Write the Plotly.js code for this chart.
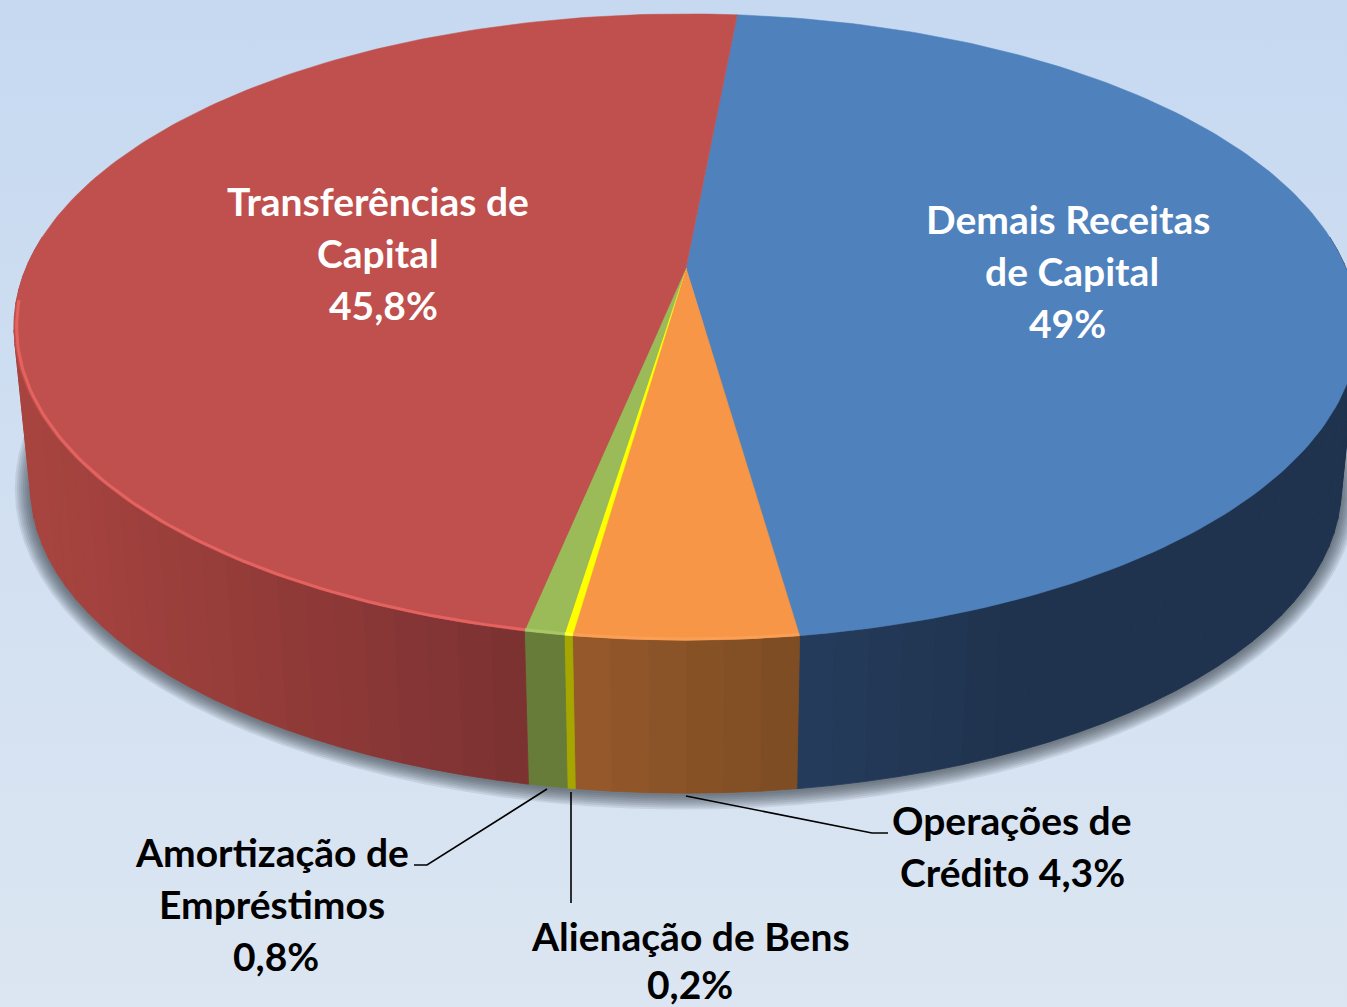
<!DOCTYPE html>
<html>
<head>
<meta charset="utf-8">
<script src="https://cdn.plot.ly/plotly-3.0.1.min.js"></script>
<style>
html,body{margin:0;padding:0;width:1347px;height:1007px;overflow:hidden;background:linear-gradient(180deg,#c6d9f1 0%,#dce6f2 100%);}
#chart{width:1347px;height:1007px;}
</style>
</head>
<body>
<div id="chart"></div>
<script>
// Slices, clockwise from the red/blue boundary; shares are the drawn wedge sizes (%).
const categories = ["Demais Receitas de Capital","Operações de Crédito","Alienação de Bens","Amortização de Empréstimos","Transferências de Capital"];
const drawnShares = [46.3,4.47,0.165,0.8,48.27];
const startAngle = 5.27;
const topColors = ["#4f81bd","#f79646","#ffff00","#9bbb59","#c0504d"];
const wallNear = ["#253c5c","#7c4c23","#a6a600","#687c3a","#7b3132"];
const wallFar = ["#1f334e","#96592b","#a6a600","#687c3a","#a8443f"];
const wallSpan = [220,226,8,40,500];
const rimColors = [null,"#fa9f55","#ffff40","#a8c766","#e4625f"];
const labelLines = [
  ["Transferências de",378,201,"#ffffff"],["Capital",378,253,"#ffffff"],["45,8%",383,305,"#ffffff"],
  ["Demais Receitas",1068,219,"#ffffff"],["de Capital",1072,271,"#ffffff"],["49%",1067,323,"#ffffff"],
  ["Operações de",1012,820,"#000000"],["Crédito 4,3%",1012,872,"#000000"],
  ["Alienação de Bens",690,936,"#000000"],["0,2%",690,984,"#000000"],
  ["Amortização de",272,852,"#000000"],["Empréstimos",272,904,"#000000"],["0,8%",276,956,"#000000"]
];
const leaderX = [[414,427,547],[571,571],[686,872,888]];
const leaderY = [[865,865,789],[792,903],[796,833,833]];

// Perspective view of the disc
const CX=686, CY=268, A=660, B=302, K=0.1885, DROP=162.3, SHRINK=0.975;
function rimTop(t){const r=t*Math.PI/180,X=Math.sin(r),Y=Math.cos(r),w=1+K*Y;return [CX+A*X/w,CY-B*Y/w];}
function rimLow(t,grow=0){const p=rimTop(t);const s=SHRINK;const x=CX+s*(p[0]-CX),y=CY+DROP+s*(p[1]-CY);
  const cy=CY+DROP+s*59;return [CX+(x-CX)*(1+grow/654),cy+(y-cy)*(1+grow/315)];}
function hex(c){return [1,3,5].map(i=>parseInt(c.substr(i,2),16));}
function mix(a,b,f){const p=hex(a),q=hex(b);return "rgb("+p.map((v,i)=>Math.round(v+(q[i]-v)*f)).join(",")+")";}

const traces=[];
function poly(pts,color,lw){traces.push({type:"scatter",mode:"lines",x:pts.map(p=>p[0]),y:pts.map(p=>p[1]),fill:"toself",fillcolor:color,
  line:{color:lw?color:"rgba(0,0,0,0)",width:lw||0},hoverinfo:"skip",showlegend:false});}

// shadow under the disc
for(let g=16;g>=2;g-=2){const pts=[];for(let t=70;t<=292;t+=3){const p=rimLow(t,g);pts.push([p[0],p[1]+1]);}
  pts.push(pts[0]);poly(pts,"rgba(50,58,70,0.105)");}

// slice boundaries
const edges=[startAngle];drawnShares.forEach(s=>edges.push(edges[edges.length-1]+s*3.6));

// side wall
const WALL_MIN=84, WALL_MAX=276;
drawnShares.forEach((s,i)=>{
  const a=Math.max(edges[i],WALL_MIN), b=Math.min(edges[i+1],WALL_MAX);
  if(b<=a)return;
  const n=Math.max(1,Math.round((b-a)/2.5));
  const anchor=i<=1?rimTop(edges[1])[0]:rimTop(a)[0];
  for(let j=0;j<n;j++){
    const t1=a+(b-a)*j/n,t2=a+(b-a)*(j+1)/n;
    const xm=rimTop((t1+t2)/2)[0];
    const f=Math.min(1,Math.abs(anchor-xm)/wallSpan[i]);
    poly([rimTop(t1),rimTop(t2),rimLow(t2),rimLow(t1),rimTop(t1)],mix(wallNear[i],wallFar[i],f),0.8);
  }
});

// top face
drawnShares.forEach((s,i)=>{
  const pts=[[CX,CY]];const a=edges[i],b=edges[i+1];const n=Math.max(1,Math.round(b-a));
  for(let j=0;j<=n;j++)pts.push(rimTop(a+(b-a)*j/n));
  pts.push([CX,CY]);
  poly(pts,topColors[i],0.5);
});

// bevel highlight, just inside the near rim
const RIM_END=264, RIM_INSET=0.996, ELL_CY=327;
drawnShares.forEach((s,i)=>{
  if(!rimColors[i])return;
  const a=edges[i],b=Math.min(edges[i+1],RIM_END);const n=Math.max(1,Math.round(b-a));const pts=[];
  for(let j=0;j<=n;j++){const p=rimTop(a+(b-a)*j/n);pts.push([CX+(p[0]-CX)*RIM_INSET,ELL_CY+(p[1]-ELL_CY)*RIM_INSET]);}
  traces.push({type:"scatter",mode:"lines",x:pts.map(p=>p[0]),y:pts.map(p=>p[1]),line:{color:rimColors[i],width:3},hoverinfo:"skip",showlegend:false});
});

// leader lines
leaderX.forEach((x,i)=>traces.push({type:"scatter",mode:"lines",x:x,y:leaderY[i],line:{color:"#000000",width:1.6},hoverinfo:"skip",showlegend:false}));

const annotations=labelLines.map(l=>({x:l[1],y:l[2],xref:"x",yref:"y",text:l[0],showarrow:false,xanchor:"center",yanchor:"middle",
  font:{family:"Lato, 'Open Sans', sans-serif",size:39,color:l[3],weight:700}}));

Plotly.newPlot("chart",traces,{
  width:1347,height:1007,margin:{l:0,r:0,t:0,b:0},paper_bgcolor:"rgba(0,0,0,0)",plot_bgcolor:"rgba(0,0,0,0)",
  showlegend:false,hovermode:false,
  xaxis:{range:[0,1347],visible:false,fixedrange:true},
  yaxis:{range:[1007,0],visible:false,fixedrange:true},
  annotations:annotations
},{staticPlot:true,displayModeBar:false});
</script>
</body>
</html>
